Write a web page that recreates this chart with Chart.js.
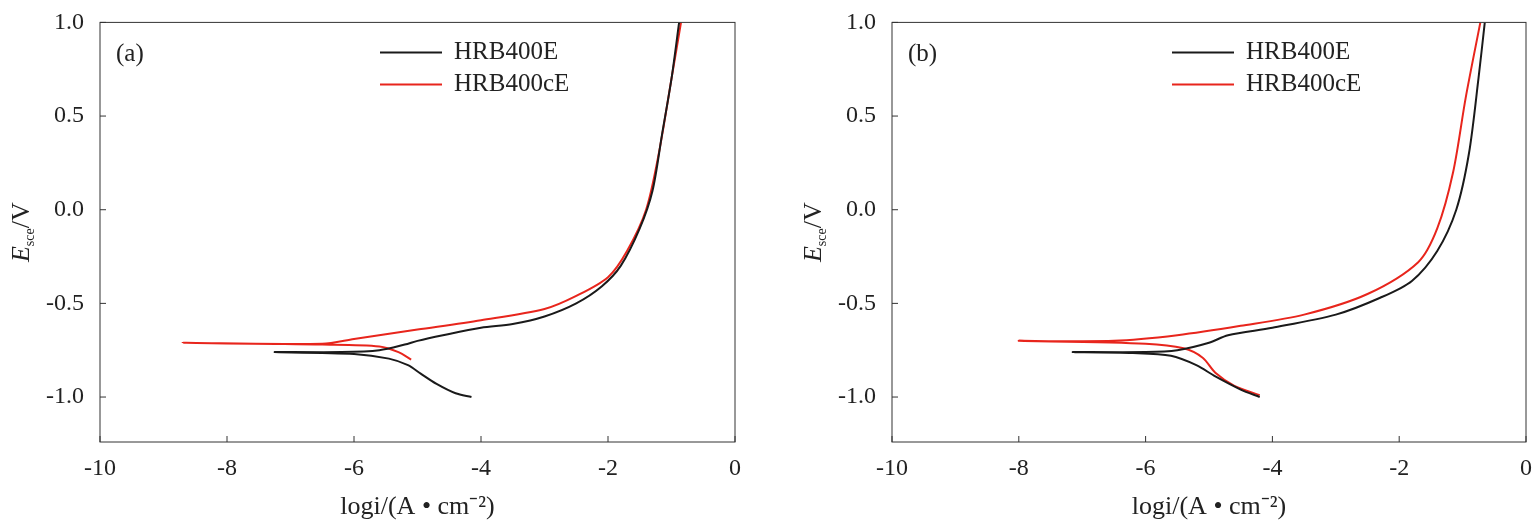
<!DOCTYPE html>
<html><head><meta charset="utf-8">
<script src="https://cdn.jsdelivr.net/npm/chart.js@4"></script>
<style>
body{margin:0;background:#fff;width:1536px;height:523px;overflow:hidden;display:flex}
.box{position:relative;width:768px;height:523px}
</style></head><body>
<div class="box"><canvas id="ca"></canvas></div>
<div class="box"><canvas id="cb"></canvas></div>
<script>
const seriesNames = ['HRB400E', 'HRB400cE'];
const xTicks = [-10, -8, -6, -4, -2, 0];
const yTicks = [-1.0, -0.5, 0.0, 0.5, 1.0];

// panel (a)
const aBlackX = [-4.15,-4.4,-4.7,-4.95,-5.15,-5.45,-6.0,-7.25,-6.2,-5.6,-5.2,-5.0,-4.6,-4.0,-3.5,-3.0,-2.5,-2.1,-1.8,-1.5,-1.3,-1.15,-1.0,-0.88];
const aBlackY = [-1.0,-0.98,-0.93,-0.875,-0.83,-0.795,-0.77,-0.76,-0.76,-0.75,-0.72,-0.70,-0.67,-0.63,-0.61,-0.57,-0.50,-0.41,-0.30,-0.10,0.1,0.4,0.7,1.0];
const aRedX = [-5.1,-5.3,-5.6,-6.5,-8.7,-6.5,-6.0,-5.0,-4.0,-3.0,-2.5,-2.0,-1.7,-1.4,-1.2,-1.0,-0.85];
const aRedY = [-0.80,-0.76,-0.73,-0.72,-0.71,-0.715,-0.69,-0.64,-0.59,-0.53,-0.46,-0.36,-0.22,0.0,0.3,0.7,1.0];
// panel (b)
const bBlackX = [-4.2,-4.5,-4.9,-5.2,-5.6,-6.2,-7.15,-6.0,-5.5,-5.0,-4.7,-4.0,-3.0,-2.3,-1.8,-1.4,-1.1,-0.9,-0.75,-0.65];
const bBlackY = [-1.0,-0.96,-0.89,-0.83,-0.78,-0.765,-0.76,-0.76,-0.75,-0.71,-0.67,-0.63,-0.56,-0.47,-0.38,-0.22,0.0,0.3,0.7,1.0];
const bRedX = [-4.2,-4.6,-4.9,-5.1,-5.4,-6.0,-8.0,-6.5,-5.5,-4.5,-3.5,-2.5,-1.7,-1.4,-1.15,-0.95,-0.72];
const bRedY = [-0.99,-0.94,-0.87,-0.79,-0.74,-0.715,-0.70,-0.70,-0.67,-0.62,-0.56,-0.45,-0.28,-0.1,0.2,0.6,1.0];

const colors = ['#1a1a1a', '#e8251c'];
const FONT = 'Liberation Serif';
const pts = (xs, ys) => xs.map((x, i) => ({x: x, y: ys[i]}));

const framePlugin = {
  id: 'frame',
  afterDraw(chart, args, o) {
    const {ctx, chartArea: a, scales} = chart;
    ctx.save();
    ctx.strokeStyle = '#333'; ctx.lineWidth = 1;
    ctx.strokeRect(a.left, a.top, a.right - a.left, a.bottom - a.top);
    // inward ticks
    xTicks.forEach(v => { const px = scales.x.getPixelForValue(v); ctx.beginPath(); ctx.moveTo(px, a.bottom); ctx.lineTo(px, a.bottom - 6); ctx.stroke(); });
    yTicks.forEach(v => { const py = scales.y.getPixelForValue(v); ctx.beginPath(); ctx.moveTo(a.left, py); ctx.lineTo(a.left + 6, py); ctx.stroke(); });
    ctx.fillStyle = '#222';
    ctx.font = '25px "' + FONT + '"';
    ctx.textBaseline = 'middle';
    ctx.fillText(o.label, a.left + 16, a.top + 32);
    // legend
    seriesNames.forEach((n, i) => {
      const y = a.top + 30 + i * 32;
      ctx.strokeStyle = colors[i]; ctx.lineWidth = 2;
      ctx.beginPath(); ctx.moveTo(a.left + 280, y); ctx.lineTo(a.left + 342, y); ctx.stroke();
      ctx.fillText(n, a.left + 354, y);
    });
    // y title with subscript
    ctx.translate(a.left - 80, (a.top + a.bottom) / 2);
    ctx.rotate(-Math.PI / 2);
    ctx.textBaseline = 'alphabetic';
    ctx.font = 'italic 26px "' + FONT + '"';
    const w1 = ctx.measureText('E').width;
    ctx.font = '14px "' + FONT + '"';
    const w2 = ctx.measureText('sce').width;
    ctx.font = '26px "' + FONT + '"';
    const w3 = ctx.measureText('/V').width;
    let x = -(w1 + w2 + w3) / 2;
    ctx.font = 'italic 26px "' + FONT + '"'; ctx.fillText('E', x, 9); x += w1;
    ctx.font = '14px "' + FONT + '"'; ctx.fillText('sce', x, 14); x += w2;
    ctx.font = '26px "' + FONT + '"'; ctx.fillText('/V', x, 9);
    ctx.restore();
  }
};

function makeChart(id, label, bx, by, rx, ry, padLeft, padRight) {
  new Chart(document.getElementById(id), {
    type: 'scatter',
    data: {
      datasets: [
        {label: seriesNames[0], data: pts(bx, by), showLine: true, borderColor: colors[0], borderWidth: 2, pointRadius: 0, tension: 0.3},
        {label: seriesNames[1], data: pts(rx, ry), showLine: true, borderColor: colors[1], borderWidth: 2, pointRadius: 0, tension: 0.3}
      ]
    },
    options: {
      responsive: false, animation: false,
      layout: {padding: {left: padLeft, right: padRight, top: 8, bottom: 0}},
      plugins: {legend: {display: false}, tooltip: {enabled: false}, frame: {label: label}},
      scales: {
        x: {
          min: -10, max: 0,
          afterBuildTicks: s => { s.ticks = xTicks.map(v => ({value: v})); },
          afterFit: s => { s.height = 81; },
          grid: {display: false}, border: {display: false},
          ticks: {color: '#222', font: {family: FONT, size: 24}, padding: 4},
          title: {display: true, text: 'logi/(A • cm⁻²)', color: '#222', font: {family: FONT, size: 26}, padding: {top: 4, bottom: 0}}
        },
        y: {
          min: -1.24, max: 1.0,
          afterBuildTicks: s => { s.ticks = yTicks.map(v => ({value: v})); },
          afterFit: s => { s.width = 100; },
          grid: {display: false}, border: {display: false},
          ticks: {color: '#222', font: {family: FONT, size: 24}, padding: 8, callback: v => v.toFixed(1)}
        }
      }
    },
    plugins: [framePlugin]
  });
}
['ca', 'cb'].forEach(id => { const c = document.getElementById(id); c.width = 768; c.height = 523; });
makeChart('ca', '(a)', aBlackX, aBlackY, aRedX, aRedY, 0, 33);
makeChart('cb', '(b)', bBlackX, bBlackY, bRedX, bRedY, 24, 9);
</script>
</body></html>
